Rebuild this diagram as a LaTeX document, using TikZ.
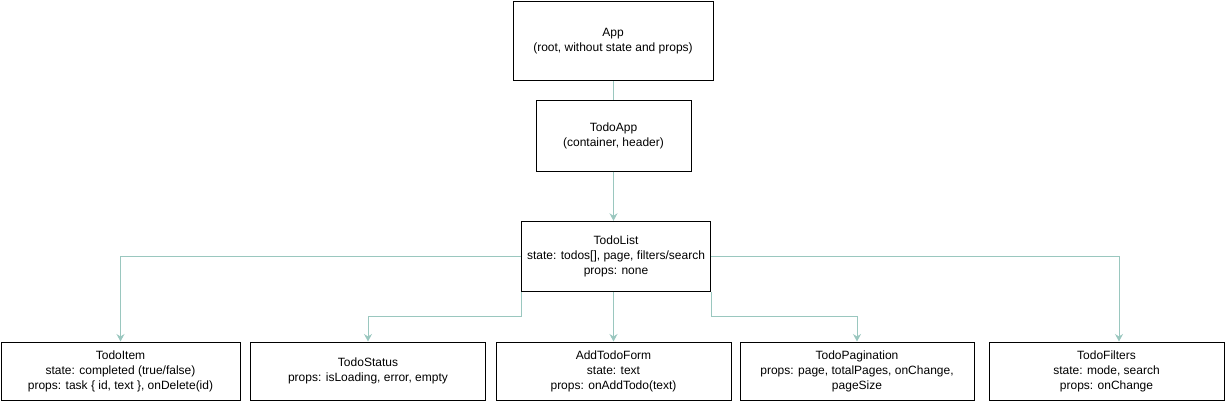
\documentclass[tikz,border=0pt]{standalone}
\usepackage{fontspec}
\setmainfont{Liberation Sans}
\usepackage{tikz}
\usetikzlibrary{arrows.meta}
\definecolor{linkteal}{HTML}{9AC7BF}

\begin{document}
\begin{tikzpicture}[x=1pt, y=-1pt,
    comp/.style={draw, line width=1pt, align=center, inner sep=0pt, minimum height=58pt, font=\fontsize{12}{15}\selectfont},
    link/.style={draw=linkteal, line width=1pt, -{Stealth[length=7.5pt, width=8pt, inset=2.5pt]}}]
            \useasboundingbox (0,0) rectangle (1226,401);
            \node[comp, minimum width=200pt, minimum height=79pt] (app) at (613,41.5) {App\\(root, without state and props)};
            \node[comp, minimum width=155pt, minimum height=70pt] (todoapp) at (613.5,136) {TodoApp\\(container, header)};
            \node[comp, minimum width=189pt, minimum height=70pt] (todolist) at (616,256.3) {TodoList\\state: todos[], page, filters/search\\props: none};
            \node[comp, minimum width=239pt] (todoitem) at (120.5,371) {TodoItem\\state: completed (true/false)\\props: task \{ id, text \}, onDelete(id)};
            \node[comp, minimum width=235pt] (todostatus) at (368,371) {TodoStatus\\props: isLoading, error, empty};
            \node[comp, minimum width=235pt] (addtodoform) at (613.5,371) {AddTodoForm\\state: text\\props: onAddTodo(text)};
            \node[comp, minimum width=234pt] (todopagination) at (857,371) {TodoPagination\\props: page, totalPages, onChange,\\pageSize};
            \node[comp, minimum width=235pt] (todofilters) at (1106.5,371) {TodoFilters\\state: mode, search\\props: onChange};
            \draw[draw=linkteal, line width=1pt] (app.south) -- (app.south |- todoapp.north);
            \draw[link] (todoapp.south) -- (todoapp.south |- todolist.north);
            \draw[link] (todolist.west) -| (todoitem.north);
            \draw[link] (todolist.south west) -- ++(0,25) -| (todostatus.north);
            \draw[link] (addtodoform.north |- todolist.south) -- (addtodoform.north);
            \draw[link] (todolist.south east) -- ++(0,25) -| (todopagination.north);
            \draw[link] (todolist.east) -| ([xshift=12.5pt]todofilters.north);
        \end{tikzpicture}
\end{document}
